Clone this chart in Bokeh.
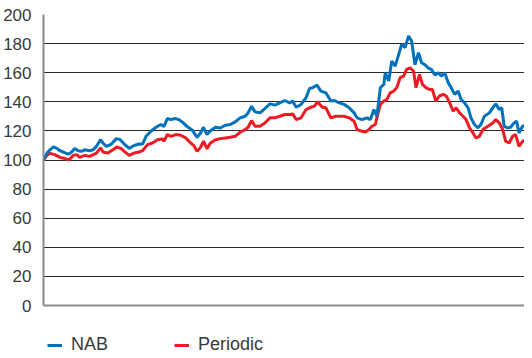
from bokeh.plotting import figure
from bokeh.models import Range1d, FixedTicker, Legend, LegendItem, Span
from bokeh.embed import file_html
from bokeh.resources import INLINE

# ---- data (x = trading-day index) ----
nab_day = [0, 7, 13, 20, 27, 33, 40, 50, 57, 63, 70, 77, 83, 93, 100, 107, 115, 120, 127, 137,
           147, 155, 163, 173, 183, 193, 200, 207, 217, 227, 237, 243, 250, 257, 267, 273, 280,
           290, 300, 310, 317, 323, 330, 337, 347, 357, 367, 377, 387, 397, 407, 413, 420, 427,
           437, 447, 457, 467, 477, 487, 497, 503, 510, 520, 530, 537, 543, 552, 560, 570, 580,
           587, 597, 607, 617, 627, 633, 643, 653, 660, 667, 673, 680, 687, 690, 697, 703, 710,
           717, 723, 730, 737, 743, 750, 757, 763, 770, 777, 783, 790, 797, 803, 810, 817, 823,
           830, 837, 843, 850, 857, 863, 870, 877, 883, 890, 900, 907, 913, 920, 925, 930, 937,
           943, 950, 955, 960, 967, 971]
nab_value = [100, 104.8, 107, 109, 108, 106.4, 105.5, 104, 105.5, 108, 106.4, 106, 107, 106.4,
             107, 109.4, 114, 111.7, 109.4, 111, 114.7, 114, 111, 108, 110, 111, 111, 116.3,
             119.8, 122.5, 124.4, 123, 128.5, 127.8, 128.5, 127.8, 126.2, 123, 120.7, 115.6,
             118.6, 122.5, 117.5, 120.2, 122.5, 122, 123.9, 124.4, 126.2, 129, 130.1, 132.4,
             137, 133.1, 132.4, 135.4, 138.6, 137.7, 139.3, 140.9, 139.3, 140.5, 136.3, 138.2,
             142.8, 149.2, 149.7, 151.5, 147.4, 146.2, 140.5, 140.9, 139.3, 138.2, 135.9, 132.4,
             129, 127.8, 129, 127.8, 134.7, 130.1, 149.7, 151.9, 160, 154.3, 168, 164.6, 172.6,
             179.5, 177.2, 185.3, 181.8, 165.5, 173.8, 166.9, 165.5, 163.2, 162.3, 158.4, 160,
             157.7, 160, 153.1, 149.7, 145.1, 147.4, 141.6, 139.3, 135.9, 129, 124.4, 122.1,
             124.4, 130.1, 132.4, 135.9, 138.6, 134.7, 135.9, 123.2, 122.1, 122.5, 125.5, 126.7,
             118.6, 123.2, 123.9]

periodic_day = [0, 7, 13, 23, 33, 43, 52, 60, 67, 73, 83, 93, 107, 115, 121, 130, 140, 148, 157,
                163, 173, 183, 193, 200, 210, 220, 230, 240, 243, 250, 257, 267, 277, 287, 297,
                303, 310, 317, 323, 330, 337, 347, 357, 367, 377, 387, 397, 407, 413, 420, 427,
                437, 447, 457, 467, 477, 487, 497, 503, 510, 520, 530, 540, 547, 553, 563, 570,
                580, 590, 607, 617, 627, 633, 643, 650, 657, 663, 670, 673, 680, 687, 693, 700,
                707, 713, 720, 727, 733, 740, 747, 752, 759, 765, 772, 779, 785, 792, 799, 807,
                813, 820, 827, 833, 840, 847, 853, 860, 867, 873, 880, 887, 897, 907, 913, 920,
                927, 933, 940, 947, 953, 960, 967, 971]
periodic_value = [100, 103.2, 104.6, 103.7, 101.8, 101, 100.2, 103.2, 103.7, 101.8, 103.2, 102.5,
                  104.8, 108.3, 105.3, 104.8, 107, 109, 107.8, 106, 103.2, 104.8, 105.5, 106.4,
                  110.6, 111.7, 114, 114.5, 112.9, 117.5, 116.3, 117.5, 117, 115.2, 111.7, 110.1,
                  106, 108.7, 112.9, 107.8, 111.7, 114, 114.7, 115.2, 115.6, 116.3, 119.1, 120.9,
                  122.5, 127.1, 123.2, 123.2, 125.5, 129, 129, 130.1, 131.3, 131.3, 131.7, 127.8,
                  129, 134.7, 136.3, 137, 140, 136.3, 135.9, 129, 130.1, 130.1, 129, 126.7, 120.9,
                  119.8, 119.3, 120.9, 123.2, 124.4, 129, 138.2, 140.5, 141.6, 146.2, 147.4, 149.7,
                  156.6, 157.7, 162.3, 163.4, 161.1, 149.7, 158.9, 152, 149.7, 148.5, 148.5, 140.5,
                  144, 145.1, 144, 139.3, 133.6, 135.9, 132.4, 130.1, 127.8, 122.1, 118.6, 115.2,
                  116.3, 120.9, 123.2, 125.5, 127.8, 125.5, 120.9, 112.9, 111.7, 116.3, 117.5,
                  109.4, 112.9, 113.3]

y_ticks = [0, 20, 40, 60, 80, 100, 120, 140, 160, 180, 200]
series_names = ["NAB", "Periodic"]

BLUE = "#0072BC"
RED = "#ED1C24"
TEXT = "#3a3a3a"
FONT = "Liberation Sans"

# the frame reaches below 0 to leave room for the legend strip
p = figure(width=524, height=356, output_backend="svg", toolbar_location=None,
           x_range=Range1d(0, nab_day[-1]), y_range=Range1d(-35, y_ticks[-1]),
           min_border_left=38, min_border_right=0, min_border_top=14, min_border_bottom=0)
p.outline_line_color = None
p.background_fill_color = "white"

p.xaxis.visible = False
p.xgrid.visible = False

p.yaxis.ticker = FixedTicker(ticks=y_ticks)
p.yaxis.bounds = (y_ticks[0], y_ticks[-1])
p.yaxis.major_tick_line_color = None
p.yaxis.minor_tick_line_color = None
p.yaxis.axis_line_color = "#8a8a8a"
p.yaxis.axis_line_width = 2
p.yaxis.major_label_text_font = FONT
p.yaxis.major_label_text_font_size = "17px"
p.yaxis.major_label_text_color = TEXT
p.yaxis.major_label_standoff = 6

p.ygrid.ticker = FixedTicker(ticks=y_ticks)
p.ygrid.grid_line_color = "#2a2a2a"
p.ygrid.grid_line_width = 1

p.add_layout(Span(location=y_ticks[0], dimension="width", line_color="#8a8a8a", line_width=2))

r_per = p.line(periodic_day, periodic_value, line_color=RED, line_width=3)
r_nab = p.line(nab_day, nab_value, line_color=BLUE, line_width=3)

legend = Legend(items=[LegendItem(label=series_names[0], renderers=[r_nab]),
                       LegendItem(label=series_names[1], renderers=[r_per])],
                location=(4, 1), orientation="horizontal",
                padding=0, margin=0, spacing=0,
                glyph_width=15, glyph_height=14, label_height=14,
                label_standoff=9, label_width=103,
                label_text_font=FONT, label_text_font_size="18px",
                label_text_color=TEXT,
                border_line_color=None, background_fill_alpha=0)
p.add_layout(legend)

open("out.html", "w").write(file_html(p, INLINE))
